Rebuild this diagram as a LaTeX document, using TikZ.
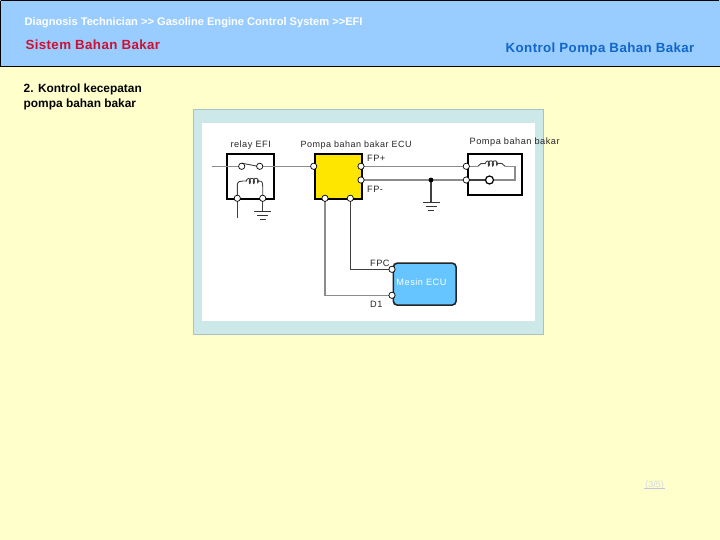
\documentclass[tikz,border=0pt]{standalone}
\usepackage{fontspec}
\setmainfont{Liberation Sans}
\definecolor{pagebg}{HTML}{FFFFCC}
\definecolor{headbg}{HTML}{99CCFF}
\definecolor{panelbg}{HTML}{CCE8E8}
\definecolor{panelln}{HTML}{A9C4C4}
\definecolor{wireg}{HTML}{8C8C8C}
\definecolor{ecublue}{HTML}{66C5FF}
\definecolor{yel}{HTML}{FFE600}
\definecolor{titlered}{HTML}{CC1133}
\definecolor{titleblue}{HTML}{1166CC}
\definecolor{pagelab}{HTML}{C4C4DC}
\newcommand{\fs}[1]{\fontsize{#1}{#1}\selectfont}
\tikzset{
  x=1pt,y=-1pt,
  lab/.style={inner sep=0pt,anchor=base west,font=\fs{9.2}\addfontfeatures{LetterSpace=5.5},text=black!85},
  pin/.style={circle,draw=black,fill=white,line width=.7pt,minimum size=6.3pt,inner sep=0pt},
  wire/.style={draw=wireg,line width=1.1pt},
  dkwire/.style={draw=black!75,line width=1.1pt},
  devbox/.style={draw=black,line width=2pt,inner sep=0pt,anchor=north west},
  gnd/.style={draw=black!80,line width=1.1pt},
  heading/.style={inner sep=0pt,anchor=base west,font=\bfseries}
}
\newcommand{\ground}[2]{%
  \draw[gnd] (#1-8.5,#2) -- (#1+8.5,#2);
  \draw[gnd] (#1-5.5,#2+4) -- (#1+5.5,#2+4);
  \draw[gnd] (#1-3,#2+8) -- (#1+3,#2+8);}
% #1 loop-start x, #2 line y
\newcommand{\coilloops}[2]{%
  \draw[dkwire,line width=.9pt] (#1,#2)
    .. controls (#1+1,#2-4) and (#1+4.5,#2-4) .. (#1+4.5,#2)
    .. controls (#1+4.5,#2+3) and (#1+2.5,#2+3) .. (#1+3.5,#2-1.5)
    .. controls (#1+4.5,#2-4) and (#1+8.5,#2-4) .. (#1+8.5,#2)
    .. controls (#1+8.5,#2+3) and (#1+6.5,#2+3) .. (#1+7.5,#2-1.5)
    .. controls (#1+8.5,#2-4) and (#1+12.5,#2-4) .. (#1+12.5,#2)
    .. controls (#1+12.5,#2+2) and (#1+11,#2+2) .. (#1+11.5,#2-1.5);}
\begin{document}
\begin{tikzpicture}
\useasboundingbox (0,0) rectangle (720,540);
\fill[pagebg] (0,0) rectangle (720,540);
\fill[headbg] (0,0) rectangle (720,66);
\draw[black,line width=1.2pt] (0.6,0.6) -- (719.4,0.6) (0.6,0.6) -- (0.6,66) (0,66.2) -- (720,66.2);
\node[heading,text=white,font=\fs{11.1}\bfseries] (crumb) at (24.5,25.5) {Diagnosis Technician {>}{>} Gasoline Engine Control System {>}{>}EFI};
\node[heading,text=titlered,font=\fs{13.3}\bfseries\addfontfeatures{LetterSpace=3}] (sect) at (25.3,49.5) {Sistem Bahan Bakar};
\node[heading,text=titleblue,font=\fs{13.3}\bfseries\addfontfeatures{LetterSpace=3}] (topic) at (505.5,52.5) {Kontrol Pompa Bahan Bakar};
\node[heading,text=black,font=\fs{11.9}\bfseries,align=left,anchor=north west] (sub) at (23.5,84) {2. Kontrol kecepatan\\[2.8pt]pompa bahan bakar};

\draw[panelln,fill=panelbg,line width=1pt] (193.5,109.5) rectangle (543.5,334);
\fill[white] (202,123) rectangle (535,320.7);

% boxes
\node[devbox,fill=white,minimum width=47pt,minimum height=44.6pt] (relay) at (226,153.3) {};
\node[devbox,fill=yel,minimum width=47.4pt,minimum height=44.6pt] (fpecu) at (313.6,153.3) {};
\node[devbox,fill=white,minimum width=53.6pt,minimum height=41.3pt] (pump) at (467,153) {};
\node[draw=black!85,fill=ecublue,line width=1.6pt,rounded corners=4pt,minimum width=62.8pt,minimum height=42pt,inner sep=0pt,anchor=north west] (mecu) at (392.5,262.3) {};
\node[inner sep=0pt,text=white,font=\fs{9.2}\addfontfeatures{LetterSpace=5.5}] (mecutxt) at (421.5,282.5) {Mesin ECU};

% coordinates
\coordinate (relayin) at (212,166.3);
\coordinate (relayout) at (237.3,217.7);
\coordinate (g1) at (262.7,211.7);
\coordinate (g2) at (431,202.3);
\coordinate (c1) at (350.3,269.3);
\coordinate (c2) at (325,295.3);
\coordinate (pr1) at (515,166.3);
\coordinate (pr2) at (515,180);

% wires
\draw[wire] (relayin) -- (241.7,166.3);
\draw[wire] (259.7,166.3) -- (313.7,166.3);
\draw[wire] (361,166.3) -- (466.3,166.3);
\draw[wire] (361,180) -- (466.3,180);
\draw[dkwire] (237.3,198.3) -- (relayout);
\draw[dkwire] (262.7,198.3) -- (g1);
\draw[dkwire] (431,180) -- (g2);
\draw[wire,line width=1.2pt] (325,198.3) -- (c2) -- (392,295.3);
\draw[dkwire] (350.3,198.3) -- (c1) -- (392,269.3);
\ground{262.7}{211.7}
\ground{431}{202.3}

% relay internals
\draw[dkwire,line width=.9pt] (241.7,163.2) -- (259.7,166.6);
\draw[dkwire,line width=.9pt] (237.3,198.3) -- (237.3,185) .. controls (237.3,181.5) and (240,181) .. (243,181) -- (246,181);
\coilloops{246}{181.5}
\draw[dkwire,line width=.9pt] (258.5,181) .. controls (262.7,181) and (262.7,183) .. (262.7,186) -- (262.7,198.3);
% pump internals
\draw[wire] (466.3,166.3) -- (478,166.3);
\draw[dkwire,line width=.9pt] (478,166.3) .. controls (479,163.5) and (482,163) .. (485,163.5);
\coilloops{485}{164}
\draw[dkwire,line width=.9pt] (497.5,163.5) .. controls (501,163) and (504,163.5) .. (505,166.3);
\draw[wire] (505,166.3) -- (pr1) -- (pr2) -- (493,180);
\draw[dkwire] (466.3,180) -- (485.5,180);
\node[circle,draw=black,fill=white,line width=1.2pt,minimum size=8pt,inner sep=0pt] (motor) at (489.5,180) {};

% pins
\node[pin] (rc1) at (241.7,166.3) {};
\node[pin] (rc2) at (259.7,166.3) {};
\node[pin] (rb1) at (237.3,198.3) {};
\node[pin] (rb2) at (262.7,198.3) {};
\node[pin] (ecuL) at (313.7,166.3) {};
\node[pin] (ecuP) at (361,166.3) {};
\node[pin] (ecuM) at (361,180) {};
\node[pin] (ecuB1) at (325,198.3) {};
\node[pin] (ecuB2) at (350.3,198.3) {};
\node[pin] (pP) at (466.3,166.3) {};
\node[pin] (pM) at (466.3,180) {};
\node[pin] (mFPC) at (392,269.3) {};
\node[pin] (mD1) at (392,295.3) {};
\node[circle,fill=black,minimum size=4.8pt,inner sep=0pt] (junc) at (431,180) {};

% labels
\node[lab] (l1) at (230.3,148) {relay EFI};
\node[lab,font=\fs{9}\addfontfeatures{LetterSpace=5.5}] (l2) at (300.5,148) {Pompa bahan bakar ECU};
\node[lab] (l3) at (367,161.5) {FP+};
\node[lab] (l4) at (367,193) {FP-};
\node[lab] (l5) at (469.5,145) {Pompa bahan bakar};
\node[lab] (l6) at (370,266) {FPC};
\node[lab] (l7) at (370,307) {D1};
\node[inner sep=0pt,anchor=base,text=pagelab!70!white,font=\fs{9}] (pg) at (654.5,487) {(3/5)};
\draw[pagelab,line width=1pt] (644,488.5) -- (665,488.5);
\end{tikzpicture}
\end{document}
